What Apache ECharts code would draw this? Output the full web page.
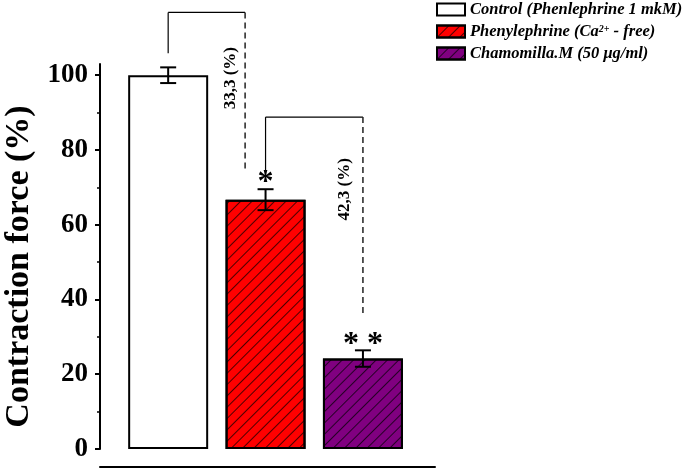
<!DOCTYPE html>
<html>
<head>
<meta charset="utf-8">
<script src="https://cdn.jsdelivr.net/npm/echarts@6/dist/echarts.min.js"></script>
<style>
html,body{margin:0;padding:0;background:#fff;}
#chart{width:685px;height:472px;}
</style>
</head>
<body>
<div id="chart"></div>
<script>
// data
const groups = ['Control (Phenlephrine 1 mkM)', 'Phenylephrine (Ca2+ - free)', 'Chamomilla.M (50 μg/ml)'];
const forceValues = [100, 66.7, 24.2];
const forceErrors = [2.1, 2.8, 2.2];
const starMarks = ['', '*', '* *'];
const dropLabels = ['33,3 (%)', '42,3 (%)'];
const yMajorTicks = [0, 20, 40, 60, 80, 100];
const yMinorTicks = [10, 30, 50, 70, 90];

const barColors = ['#ffffff', '#ff0000', '#800080'];
const serif = '"Liberation Serif", "Times New Roman", serif';
const hatch = {
	symbol: 'rect', symbolSize: 1, dashArrayX: [1, 0], dashArrayY: [1, 6.5],
	rotation: -Math.PI / 4, color: 'rgba(0,0,0,0.7)'
};
// bracket layout (data units)
const bracketLayout = [
	{ startY: 105.9, topY: 116.8, endDX: -0.21, endY: 74.6, labelDX: -0.36, labelY: 99.2 },
	{ startY: 74.6, topY: 88.8, endDX: 0, endY: 35.8, labelDX: -0.185, labelY: 69.5 }
];

let myChart = echarts.init(document.getElementById('chart'));

const barSeries = groups.map((g, i) => ({
	name: g,
	type: 'bar',
	barWidth: 80,
	barGap: '-100%',
	data: [[i, forceValues[i]]],
	itemStyle: Object.assign(
		{ color: barColors[i], borderColor: '#000', borderWidth: 2 },
		i ? { decal: hatch } : {}
	)
}));

const line = (a, b, extra) => ({
	type: 'line',
	shape: { x1: a[0], y1: a[1], x2: b[0], y2: b[1] },
	style: Object.assign({ stroke: '#000', lineWidth: 2 }, extra || {})
});

myChart.setOption({
	animation: false,
	grid: { left: 100, right: 250, top: 64, bottom: 23, outerBoundsMode: 'none' },
	legend: {
		data: groups,
		orient: 'vertical',
		left: 431, top: -4,
		itemWidth: 28, itemHeight: 12, itemGap: 5,
		icon: 'rect',
		itemStyle: { borderColor: '#000', borderWidth: 2 },
		formatter: n => n.replace('2+', '{sup|2+}'),
		textStyle: {
			fontFamily: serif, fontSize: 16.5, fontWeight: 'bold', fontStyle: 'italic',
			color: '#000', lineHeight: 14,
			rich: {
				sup: { fontFamily: serif, fontSize: 10, fontWeight: 'bold', fontStyle: 'italic', color: '#000', verticalAlign: 'top', lineHeight: 14 }
			}
		}
	},
	xAxis: {
		type: 'value', min: -0.7, max: 2.74, offset: 18,
		axisLine: { show: true, onZero: false, lineStyle: { color: '#000', width: 2 } },
		axisTick: { show: false }, axisLabel: { show: false }, splitLine: { show: false }
	},
	yAxis: [{
		type: 'value', min: 0, max: 103,
		name: 'Contraction force (%)', nameLocation: 'middle', nameGap: 64, nameRotate: 90,
		nameTextStyle: { fontFamily: serif, fontSize: 34, fontWeight: 'bold', color: '#000', padding: [0, 20, 0, 0] },
		axisLine: { show: true, onZero: false, lineStyle: { color: '#000', width: 2 } },
		axisTick: { show: true, length: 5, customValues: yMajorTicks, lineStyle: { color: '#000', width: 2 } },
		axisLabel: { customValues: yMajorTicks, margin: 12, fontFamily: serif, fontSize: 27, fontWeight: 'bold', color: '#000' },
		splitLine: { show: false }
	}, {
		type: 'value', min: 0, max: 103, position: 'left',
		axisLine: { show: false, onZero: false },
		axisTick: { show: true, length: 3, customValues: yMinorTicks, lineStyle: { color: '#000', width: 1.5 } },
		axisLabel: { show: false }, splitLine: { show: false }
	}],
	series: barSeries.concat([{
		type: 'custom', silent: true, clip: false, z: 5,
		data: forceValues.map((v, i) => [i, v, forceErrors[i]]),
		renderItem(params, api) {
			const x = api.value(0), v = api.value(1), e = api.value(2);
			const hi = api.coord([x, v + e]), lo = api.coord([x, v - e]);
			const cap = 8;
			return {
				type: 'group', children: [
					line(hi, lo),
					line([hi[0] - cap, hi[1]], [hi[0] + cap, hi[1]]),
					line([lo[0] - cap, lo[1]], [lo[0] + cap, lo[1]]),
					{
						type: 'text', x: hi[0], y: hi[1] - 6,
						style: { text: starMarks[params.dataIndex], fontFamily: serif, fontSize: 32, fontWeight: 'bold', fill: '#000', align: 'center', verticalAlign: 'middle' }
					}
				]
			};
		}
	}, {
		type: 'custom', silent: true, clip: false, z: 5,
		data: dropLabels.map((t, i) => [i, i + 1]),
		renderItem(params, api) {
			const L = bracketLayout[params.dataIndex];
			const from = api.value(0), to = api.value(1) + L.endDX;
			const a = api.coord([from, L.startY]), b = api.coord([from, L.topY]);
			const c = api.coord([to, L.topY]), d = api.coord([to, L.endY]);
			const t = api.coord([api.value(1) + L.labelDX, L.labelY]);
			return {
				type: 'group', children: [
					line(a, b, { lineWidth: 1.2 }),
					line(b, c, { lineWidth: 1.2 }),
					line(c, d, { lineWidth: 1.5, stroke: '#222', lineDash: [6, 4] }),
					{
						type: 'text', x: t[0], y: t[1], rotation: Math.PI / 2,
						style: { text: dropLabels[params.dataIndex], fontFamily: serif, fontSize: 17, fontWeight: 'bold', fill: '#000', align: 'center', verticalAlign: 'middle' }
					}
				]
			};
		}
	}])
});
</script>
</body>
</html>
